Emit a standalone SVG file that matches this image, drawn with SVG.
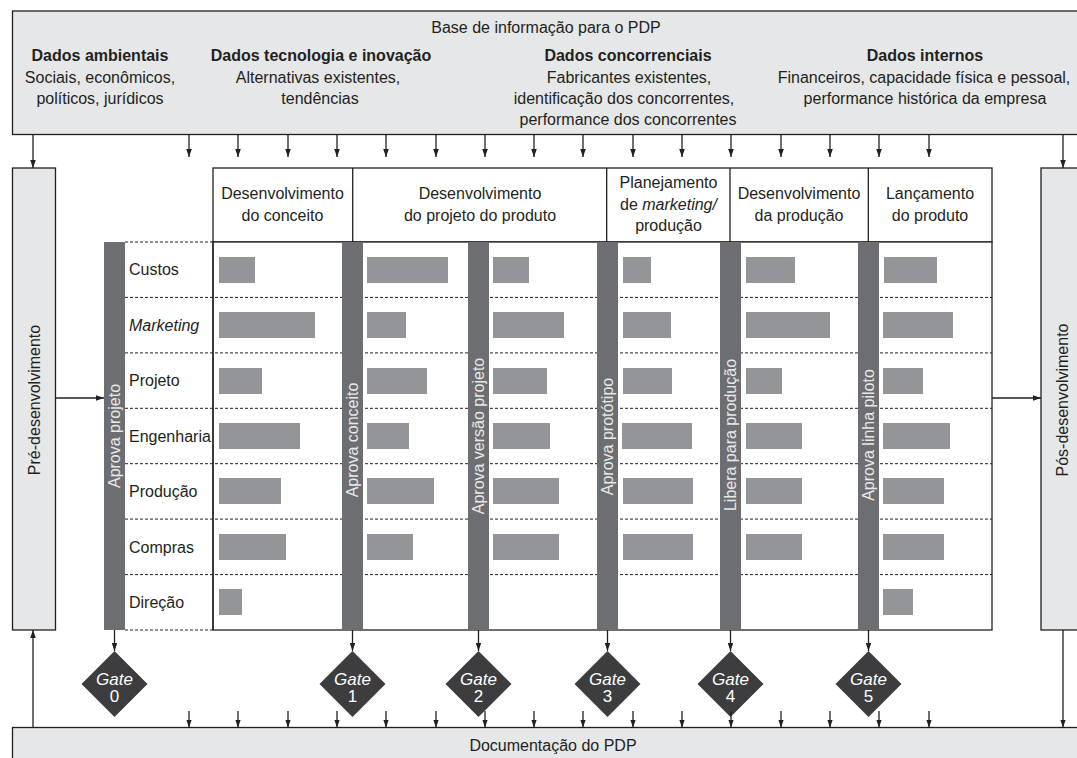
<svg xmlns="http://www.w3.org/2000/svg" width="1077" height="758" viewBox="0 0 1077 758">
<defs>
<marker id="ah" viewBox="0 0 10 7" refX="10" refY="3.5" markerWidth="8" markerHeight="5.6" markerUnits="userSpaceOnUse" orient="auto"><path d="M0,0 L10,3.5 L0,7 z" fill="#231f20"/></marker>
<style>
text{font-family:"Liberation Sans",Arial,sans-serif;font-size:16px;fill:#231f20}
.b{font-weight:bold;font-size:16px}
.m{text-anchor:middle}
.it{font-style:italic}
.box{fill:#e6e7e8;stroke:#231f20;stroke-width:1.3}
.tbl{fill:#fff;stroke:#231f20;stroke-width:1.3}
.gb{fill:#6d6e71}
.db{fill:#939598}
.dash{stroke:#231f20;stroke-width:1;stroke-dasharray:3,2;fill:none}
.con{stroke:#231f20;stroke-width:1.3;fill:none;marker-end:url(#ah)}
.gt{fill:#e8e8e8;text-anchor:middle}
.dm{fill:#3d3d3f}
.dt{fill:#fff;text-anchor:middle;font-size:17px}
</style>
</defs>

<g id="base-info">
<rect class="box" x="12.5" y="11" width="1080" height="123.5"/>
<text class="m" x="546" y="33">Base de informação para o PDP</text>
<text class="m b" x="100" y="61">Dados ambientais</text>
<text class="m" x="100" y="83">Sociais, econômicos,</text>
<text class="m" x="100" y="104">políticos, jurídicos</text>
<text class="m b" x="321" y="61">Dados tecnologia e inovação</text>
<text class="m" x="318" y="83">Alternativas existentes,</text>
<text class="m" x="320" y="104">tendências</text>
<text class="m b" x="628" y="61">Dados concorrenciais</text>
<text class="m" x="629" y="83">Fabricantes existentes,</text>
<text class="m" x="624" y="104">identificação dos concorrentes,</text>
<text class="m" x="628" y="125">performance dos concorrentes</text>
<text class="m b" x="925" y="61">Dados internos</text>
<text class="m" x="924" y="83">Financeiros, capacidade física e pessoal,</text>
<text class="m" x="925" y="104">performance histórica da empresa</text>
</g>

<g id="documentacao">
<rect class="box" x="12.5" y="727.5" width="1080" height="40"/>
<text class="m" x="553" y="751">Documentação do PDP</text>
</g>

<g id="pre-desenvolvimento">
<rect class="box" x="12.5" y="168" width="43" height="462"/>
<text class="m" transform="translate(34,400) rotate(-90)" y="5.5">Pré-desenvolvimento</text>
</g>

<g id="pos-desenvolvimento">
<rect class="box" x="1041" y="168" width="43" height="462"/>
<text class="m" transform="translate(1062.5,400) rotate(-90)" y="5.5">Pós-desenvolvimento</text>
</g>

<g id="phase-table">
<rect class="tbl" x="213" y="168" width="779" height="74"/>
<rect class="tbl" x="213" y="242" width="779" height="388"/>
<line x1="352.7" y1="168" x2="352.7" y2="242" stroke="#231f20" stroke-width="1.3"/>
<line x1="606.7" y1="168" x2="606.7" y2="242" stroke="#231f20" stroke-width="1.3"/>
<line x1="730" y1="168" x2="730" y2="242" stroke="#231f20" stroke-width="1.3"/>
<line x1="868.3" y1="168" x2="868.3" y2="242" stroke="#231f20" stroke-width="1.3"/>
<text class="m" x="282.5" y="199">Desenvolvimento</text>
<text class="m" x="282.5" y="221">do conceito</text>
<text class="m" x="480" y="199">Desenvolvimento</text>
<text class="m" x="480" y="221">do projeto do produto</text>
<text class="m" x="668.5" y="188">Planejamento</text>
<text class="m" x="668.5" y="210">de <tspan class="it">marketing/</tspan></text>
<text class="m" x="668.5" y="231">produção</text>
<text class="m" x="799" y="199">Desenvolvimento</text>
<text class="m" x="799" y="221">da produção</text>
<text class="m" x="930" y="199">Lançamento</text>
<text class="m" x="930" y="221">do produto</text>
<line class="dash" x1="125" y1="242" x2="213" y2="242"/>
<line class="dash" x1="125" y1="630" x2="213" y2="630"/>
<line class="dash" x1="125" y1="297.4" x2="992" y2="297.4"/>
<line class="dash" x1="125" y1="352.9" x2="992" y2="352.9"/>
<line class="dash" x1="125" y1="408.3" x2="992" y2="408.3"/>
<line class="dash" x1="125" y1="463.7" x2="992" y2="463.7"/>
<line class="dash" x1="125" y1="519.1" x2="992" y2="519.1"/>
<line class="dash" x1="125" y1="574.6" x2="992" y2="574.6"/>
<line x1="213" y1="242" x2="213" y2="630" stroke="#231f20" stroke-width="1.3"/>
</g>

<g id="row-labels">
<text x="129" y="275">Custos</text>
<text class="it" x="129" y="330.5">Marketing</text>
<text x="129" y="386">Projeto</text>
<text x="129" y="441.5">Engenharia</text>
<text x="129" y="497">Produção</text>
<text x="129" y="552.5">Compras</text>
<text x="129" y="608">Direção</text>
</g>

<g id="activity-bars">
<rect class="db" x="219" y="257" width="36" height="26"/>
<rect class="db" x="367" y="257" width="81" height="26"/>
<rect class="db" x="493" y="257" width="36" height="26"/>
<rect class="db" x="623" y="257" width="28" height="26"/>
<rect class="db" x="746" y="257" width="49" height="26"/>
<rect class="db" x="884" y="257" width="53" height="26"/>

<rect class="db" x="219" y="312" width="96" height="26"/>
<rect class="db" x="367" y="312" width="39" height="26"/>
<rect class="db" x="493" y="312" width="71" height="26"/>
<rect class="db" x="623" y="312" width="48" height="26"/>
<rect class="db" x="746" y="312" width="84" height="26"/>
<rect class="db" x="883" y="312" width="70" height="26"/>

<rect class="db" x="219" y="368" width="43" height="26"/>
<rect class="db" x="367" y="368" width="60" height="26"/>
<rect class="db" x="493" y="368" width="54" height="26"/>
<rect class="db" x="623" y="368" width="49" height="26"/>
<rect class="db" x="746" y="368" width="36" height="26"/>
<rect class="db" x="883" y="368" width="40" height="26"/>

<rect class="db" x="219" y="423" width="81" height="26"/>
<rect class="db" x="367" y="423" width="42" height="26"/>
<rect class="db" x="493" y="423" width="57" height="26"/>
<rect class="db" x="622" y="423" width="70" height="26"/>
<rect class="db" x="746" y="423" width="56" height="26"/>
<rect class="db" x="883" y="423" width="67" height="26"/>

<rect class="db" x="219" y="478" width="62" height="26"/>
<rect class="db" x="367" y="478" width="67" height="26"/>
<rect class="db" x="493" y="478" width="66" height="26"/>
<rect class="db" x="623" y="478" width="70" height="26"/>
<rect class="db" x="746" y="478" width="56" height="26"/>
<rect class="db" x="883" y="478" width="61" height="26"/>

<rect class="db" x="219" y="534" width="67" height="26"/>
<rect class="db" x="367" y="534" width="46" height="26"/>
<rect class="db" x="493" y="534" width="66" height="26"/>
<rect class="db" x="623" y="534" width="70" height="26"/>
<rect class="db" x="746" y="534" width="56" height="26"/>
<rect class="db" x="883" y="534" width="61" height="26"/>

<rect class="db" x="219" y="589" width="23" height="26"/>
<rect class="db" x="883" y="589" width="30" height="26"/>
</g>

<g id="gate-bar-0"><rect class="gb" x="104" y="242" width="21" height="388"/><text class="gt" transform="translate(114.5,436) rotate(-90)" y="5.5">Aprova projeto</text></g>
<g id="gate-bar-1"><rect class="gb" x="342" y="242" width="21" height="388"/><text class="gt" transform="translate(352.5,440) rotate(-90)" y="5.5">Aprova conceito</text></g>
<g id="gate-bar-2"><rect class="gb" x="468" y="242" width="21" height="388"/><text class="gt" transform="translate(478.5,436) rotate(-90)" y="5.5">Aprova versão projeto</text></g>
<g id="gate-bar-3"><rect class="gb" x="597" y="242" width="21" height="388"/><text class="gt" transform="translate(607.5,436.5) rotate(-90)" y="5.5">Aprova protótipo</text></g>
<g id="gate-bar-4"><rect class="gb" x="720" y="242" width="21" height="388"/><text class="gt" transform="translate(730.5,435) rotate(-90)" y="5.5">Libera para produção</text></g>
<g id="gate-bar-5"><rect class="gb" x="858" y="242" width="21" height="388"/><text class="gt" transform="translate(868.5,435) rotate(-90)" y="5.5">Aprova linha piloto</text></g>

<g id="gate-0"><path class="dm" d="M114.5,651 L147.5,684 L114.5,717 L81.5,684 z"/><text class="dt it" x="114.5" y="685">Gate</text><text class="dt" x="114.5" y="702">0</text></g>
<g id="gate-1"><path class="dm" d="M352.5,651 L385.5,684 L352.5,717 L319.5,684 z"/><text class="dt it" x="352.5" y="685">Gate</text><text class="dt" x="352.5" y="702">1</text></g>
<g id="gate-2"><path class="dm" d="M478.5,651 L511.5,684 L478.5,717 L445.5,684 z"/><text class="dt it" x="478.5" y="685">Gate</text><text class="dt" x="478.5" y="702">2</text></g>
<g id="gate-3"><path class="dm" d="M607.5,651 L640.5,684 L607.5,717 L574.5,684 z"/><text class="dt it" x="607.5" y="685">Gate</text><text class="dt" x="607.5" y="702">3</text></g>
<g id="gate-4"><path class="dm" d="M730.5,651 L763.5,684 L730.5,717 L697.5,684 z"/><text class="dt it" x="730.5" y="685">Gate</text><text class="dt" x="730.5" y="702">4</text></g>
<g id="gate-5"><path class="dm" d="M868.5,651 L901.5,684 L868.5,717 L835.5,684 z"/><text class="dt it" x="868.5" y="685">Gate</text><text class="dt" x="868.5" y="702">5</text></g>

<g id="connectors">
<line class="con" x1="33" y1="134.5" x2="33" y2="168"/>
<line class="con" x1="1063" y1="134.5" x2="1063" y2="168"/>
<line class="con" x1="33" y1="727.5" x2="33" y2="630"/>
<line class="con" x1="1063" y1="630" x2="1063" y2="727.5"/>
<line class="con" x1="55.5" y1="398" x2="104" y2="398"/>
<line class="con" x1="992" y1="398" x2="1041" y2="398"/>

<line class="con" x1="189" y1="134.5" x2="189" y2="157"/>
<line class="con" x1="238" y1="134.5" x2="238" y2="157"/>
<line class="con" x1="288" y1="134.5" x2="288" y2="157"/>
<line class="con" x1="337" y1="134.5" x2="337" y2="157"/>
<line class="con" x1="386" y1="134.5" x2="386" y2="157"/>
<line class="con" x1="436" y1="134.5" x2="436" y2="157"/>
<line class="con" x1="485" y1="134.5" x2="485" y2="157"/>
<line class="con" x1="534" y1="134.5" x2="534" y2="157"/>
<line class="con" x1="583" y1="134.5" x2="583" y2="157"/>
<line class="con" x1="633" y1="134.5" x2="633" y2="157"/>
<line class="con" x1="682" y1="134.5" x2="682" y2="157"/>
<line class="con" x1="731" y1="134.5" x2="731" y2="157"/>
<line class="con" x1="781" y1="134.5" x2="781" y2="157"/>
<line class="con" x1="830" y1="134.5" x2="830" y2="157"/>
<line class="con" x1="879" y1="134.5" x2="879" y2="157"/>
<line class="con" x1="929" y1="134.5" x2="929" y2="157"/>

<line class="con" x1="189" y1="711" x2="189" y2="727.5"/>
<line class="con" x1="238" y1="711" x2="238" y2="727.5"/>
<line class="con" x1="288" y1="711" x2="288" y2="727.5"/>
<line class="con" x1="337" y1="711" x2="337" y2="727.5"/>
<line class="con" x1="386" y1="711" x2="386" y2="727.5"/>
<line class="con" x1="436" y1="711" x2="436" y2="727.5"/>
<line class="con" x1="485" y1="711" x2="485" y2="727.5"/>
<line class="con" x1="534" y1="711" x2="534" y2="727.5"/>
<line class="con" x1="583" y1="711" x2="583" y2="727.5"/>
<line class="con" x1="633" y1="711" x2="633" y2="727.5"/>
<line class="con" x1="682" y1="711" x2="682" y2="727.5"/>
<line class="con" x1="731" y1="711" x2="731" y2="727.5"/>
<line class="con" x1="781" y1="711" x2="781" y2="727.5"/>
<line class="con" x1="830" y1="711" x2="830" y2="727.5"/>
<line class="con" x1="879" y1="711" x2="879" y2="727.5"/>
<line class="con" x1="929" y1="711" x2="929" y2="727.5"/>

<line class="con" x1="114.5" y1="630" x2="114.5" y2="651"/>
<line class="con" x1="352.5" y1="630" x2="352.5" y2="651"/>
<line class="con" x1="478.5" y1="630" x2="478.5" y2="651"/>
<line class="con" x1="607.5" y1="630" x2="607.5" y2="651"/>
<line class="con" x1="730.5" y1="630" x2="730.5" y2="651"/>
<line class="con" x1="868.5" y1="630" x2="868.5" y2="651"/>
</g>
</svg>
